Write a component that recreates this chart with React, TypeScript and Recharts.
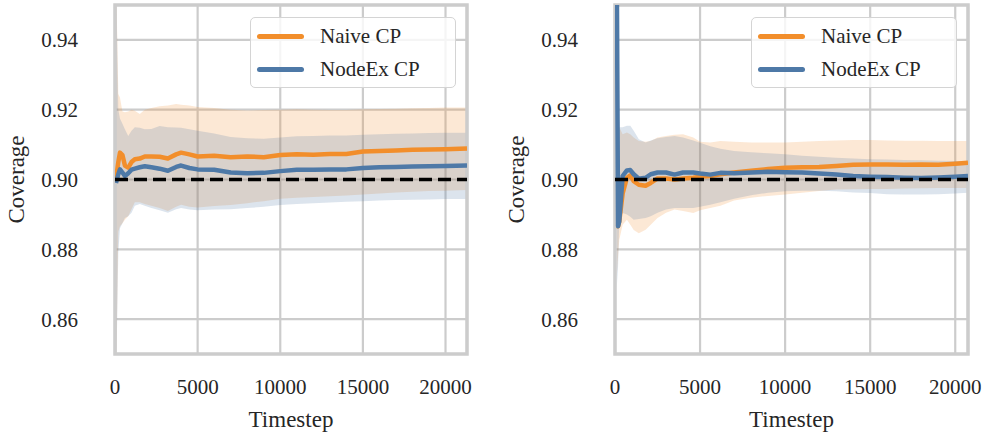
import React from "react";
import {
  ComposedChart,
  Area,
  Line,
  XAxis,
  YAxis,
  CartesianGrid,
  ReferenceLine,
  ReferenceArea,
  Legend,
} from "recharts";

const NAIVE_COLOR = "#F28E2B";
const NODEEX_COLOR = "#4E79A7";
const TEXT_COLOR = "#262626";
const GRID_COLOR = "#cccccc";
const FONT = "'Liberation Serif', 'DejaVu Serif', serif";

const yTicks = [0.86, 0.88, 0.9, 0.92, 0.94];
const xTicks = [0, 5000, 10000, 15000, 20000];
const targetCoverage = 0.9;

const seriesNames = [
  { key: "naive", name: "Naive CP", color: NAIVE_COLOR },
  { key: "nodeex", name: "NodeEx CP", color: NODEEX_COLOR },
];

// left run
const leftSteps = [
  60, 200, 300, 450, 600, 800, 1000, 1200, 1500, 1800, 2200, 2700, 3200, 3700,
  4000, 4500, 5000, 6000, 7000, 8000, 9000, 10000, 11000, 12000, 13000, 14000,
  15000, 16000, 17000, 18000, 19000, 20000, 21300,
];
const leftNaiveMean = [
  0.9, 0.905, 0.9077, 0.907, 0.904, 0.9034, 0.905, 0.9058, 0.906, 0.9066,
  0.9066, 0.9065, 0.906, 0.9072, 0.9077, 0.9072, 0.9066, 0.9068, 0.9064,
  0.9066, 0.9064, 0.907, 0.9072, 0.9071, 0.9073, 0.9073, 0.908, 0.9082,
  0.9083, 0.9085, 0.9086, 0.9087, 0.9089,
];
const leftNaiveLow = [
  0.84, 0.885, 0.8866, 0.8875, 0.8885, 0.8895, 0.8915, 0.8935, 0.8935, 0.893,
  0.8925, 0.8918, 0.891, 0.8922, 0.8928, 0.8922, 0.892, 0.8924, 0.8927,
  0.8932, 0.8938, 0.8945, 0.8948, 0.895, 0.8952, 0.8954, 0.8957, 0.896,
  0.8963, 0.8965, 0.8967, 0.8968, 0.897,
];
const leftNaiveHigh = [
  0.96, 0.9245, 0.9235, 0.9195, 0.9193, 0.9195, 0.92, 0.9197, 0.9188, 0.92,
  0.9205, 0.921, 0.9212, 0.9216, 0.9214, 0.9212, 0.9208, 0.9205, 0.92,
  0.9198, 0.9199, 0.92, 0.9201, 0.92, 0.9199, 0.9199, 0.9201, 0.9202,
  0.9203, 0.9204, 0.9205, 0.9206, 0.9206,
];
const leftNodeMean = [
  0.899, 0.9015, 0.9029, 0.902, 0.901, 0.9018, 0.9028, 0.9031, 0.9035,
  0.9038, 0.9035, 0.9031, 0.9025, 0.9036, 0.904, 0.9033, 0.9029, 0.9028,
  0.902, 0.9018, 0.9019, 0.9024, 0.9028, 0.9028, 0.9029, 0.9029, 0.9033,
  0.9035, 0.9036, 0.9037, 0.9038, 0.9039, 0.904,
];
const leftNodeLow = [
  0.84, 0.879, 0.886, 0.8875, 0.889, 0.8895, 0.8905, 0.8925, 0.893, 0.8925,
  0.8918, 0.8912, 0.8905, 0.8915, 0.8918, 0.8914, 0.8912, 0.8914, 0.8915,
  0.8918, 0.8922, 0.8927, 0.893, 0.8932, 0.8934, 0.8936, 0.8938, 0.894,
  0.8941, 0.8942, 0.8943, 0.8944, 0.8944,
];
const leftNodeHigh = [
  0.96, 0.92, 0.9175, 0.916, 0.9144, 0.9125, 0.914, 0.915, 0.9148, 0.9144,
  0.9145, 0.9153, 0.915, 0.9149, 0.9148, 0.9144, 0.914, 0.9132, 0.9122,
  0.9118, 0.9117, 0.912, 0.9124, 0.9125, 0.9126, 0.9126, 0.9128, 0.913,
  0.9131, 0.9132, 0.9133, 0.9134, 0.9134,
];

// right run
const rightSteps = [
  100, 180, 250, 450, 700, 900, 1100, 1400, 1800, 2100, 2500, 3000, 3500,
  4000, 4600, 5000, 5600, 6200, 7000, 8000, 9000, 10000, 11000, 12000, 13000,
  14000, 15000, 16000, 17000, 18000, 19000, 20000, 20750,
];
const rightNaiveMean = [
  0.8866, 0.8866, 0.888, 0.896, 0.9005, 0.9012, 0.8995, 0.8985, 0.8982,
  0.899, 0.9003, 0.9003, 0.9, 0.9003, 0.9005, 0.9008, 0.901, 0.9015, 0.902,
  0.9025, 0.903, 0.9034, 0.9035, 0.9036, 0.9039, 0.9042, 0.9043, 0.9043,
  0.9042, 0.9043, 0.9042, 0.9045, 0.9048,
];
const rightNaiveLow = [
  0.872, 0.878, 0.8827, 0.887, 0.8885, 0.887, 0.8855, 0.8846, 0.8856, 0.887,
  0.889, 0.8905, 0.8914, 0.891, 0.8904, 0.8912, 0.8918, 0.8925, 0.894,
  0.8948, 0.8953, 0.8957, 0.8962, 0.8967, 0.8971, 0.8972, 0.8973, 0.8973,
  0.8974, 0.8975, 0.8976, 0.8976, 0.8976,
];
const rightNaiveHigh = [
  0.935, 0.92, 0.915, 0.913, 0.9135, 0.913, 0.912, 0.911, 0.9108, 0.911,
  0.912, 0.9125, 0.9128, 0.913, 0.912, 0.9108, 0.9106, 0.911, 0.9108,
  0.9106, 0.9106, 0.9106, 0.9108, 0.911, 0.9112, 0.9113, 0.9113, 0.9112,
  0.9111, 0.9111, 0.911, 0.911, 0.911,
];
const rightNodeMean = [
  0.965, 0.8866, 0.888, 0.901, 0.9026, 0.9027, 0.9015, 0.9002, 0.9005,
  0.9015, 0.902, 0.902, 0.9014, 0.902, 0.902, 0.9017, 0.9014, 0.9019,
  0.9018, 0.902, 0.9022, 0.9021, 0.902, 0.9017, 0.9014, 0.901, 0.9008,
  0.9007, 0.9005, 0.9004, 0.9006, 0.9008, 0.901,
];
const rightNodeLow = [
  0.869, 0.875, 0.888, 0.8904, 0.89, 0.8893, 0.8885, 0.8887, 0.889, 0.8895,
  0.8905, 0.8914, 0.8918, 0.8918, 0.8918, 0.8922, 0.8928, 0.8935, 0.8945,
  0.8955, 0.8962, 0.8966, 0.8968, 0.8968, 0.8966, 0.8963, 0.8961, 0.8958,
  0.8957, 0.8957, 0.8958, 0.896, 0.8962,
];
const rightNodeHigh = [
  0.96, 0.93, 0.915, 0.915, 0.9154, 0.9154, 0.914, 0.9115, 0.9106, 0.9112,
  0.9118, 0.9122, 0.9125, 0.912, 0.9112, 0.9105, 0.9095, 0.9088, 0.9082,
  0.9078, 0.9075, 0.9072, 0.9068, 0.9065, 0.9062, 0.906, 0.9058, 0.9057,
  0.9056, 0.9055, 0.9054, 0.9053, 0.9053,
];

const toRows = (
  steps: number[],
  naiveMean: number[],
  naiveLow: number[],
  naiveHigh: number[],
  nodeMean: number[],
  nodeLow: number[],
  nodeHigh: number[]
) =>
  steps.map((step, i) => ({
    step,
    naive: naiveMean[i],
    naiveBand: [naiveLow[i], naiveHigh[i]],
    nodeex: nodeMean[i],
    nodeexBand: [nodeLow[i], nodeHigh[i]],
  }));

const leftRows = toRows(
  leftSteps,
  leftNaiveMean,
  leftNaiveLow,
  leftNaiveHigh,
  leftNodeMean,
  leftNodeLow,
  leftNodeHigh
);
const rightRows = toRows(
  rightSteps,
  rightNaiveMean,
  rightNaiveLow,
  rightNaiveHigh,
  rightNodeMean,
  rightNodeLow,
  rightNodeHigh
);

// serif tick labels, written out directly so the font is not overridden
const XTick = ({ x, y, payload }: any) => (
  <text
    x={x}
    y={y + 15}
    textAnchor="middle"
    fill={TEXT_COLOR}
    fontSize={21}
    fontFamily={FONT}
  >
    {payload.value}
  </text>
);

const YTick = ({ x, y, payload }: any) => (
  <text
    x={x}
    y={y + 7.5}
    textAnchor="end"
    fill={TEXT_COLOR}
    fontSize={21}
    fontFamily={FONT}
  >
    {Number(payload.value).toFixed(2)}
  </text>
);

const LegendBox = () => (
  <div
    style={{
      position: "relative",
      width: 206,
      height: 71,
      boxSizing: "border-box",
      border: "1.5px solid #d4d4d4",
      borderRadius: 5,
      background: "rgba(255,255,255,0.8)",
      fontFamily: FONT,
      fontSize: 21,
      color: TEXT_COLOR,
    }}
  >
    {seriesNames.map((s, i) => (
      <div
        key={s.key}
        style={{
          position: "absolute",
          left: 6,
          top: 7 + i * 33,
          height: 22,
          display: "flex",
          alignItems: "center",
          whiteSpace: "nowrap",
        }}
      >
        <span
          style={{
            display: "inline-block",
            width: 47,
            height: 5,
            borderRadius: 3,
            background: s.color,
          }}
        />
        <span style={{ marginLeft: 16, lineHeight: "22px" }}>{s.name}</span>
      </div>
    ))}
  </div>
);

interface PanelProps {
  rows: any[];
  xMax: number;
  width: number;
  plotRight: number;
}

const PLOT_LEFT = 115;
const PLOT_TOP = 5;
const PLOT_BOTTOM = 354;
const HEIGHT = 433;

const CoveragePanel = ({ rows, xMax, width, plotRight }: PanelProps) => (
  <ComposedChart
    width={width}
    height={HEIGHT}
    data={rows}
    margin={{ top: PLOT_TOP, right: width - plotRight, bottom: 0, left: 0 }}
  >
    <CartesianGrid stroke={GRID_COLOR} strokeWidth={2.2} />
    <XAxis
      dataKey="step"
      type="number"
      domain={[0, xMax]}
      allowDataOverflow
      ticks={xTicks}
      height={HEIGHT - PLOT_BOTTOM}
      axisLine={false}
      tickLine={false}
      tickSize={0}
      tickMargin={25}
      tick={<XTick />}
      label={{
        content: (props: any) => {
          const vb = props.viewBox;
          return (
            <text
              x={vb.x + vb.width / 2}
              y={vb.y + 73}
              textAnchor="middle"
              fill={TEXT_COLOR}
              fontSize={23}
              fontFamily={FONT}
            >
              Timestep
            </text>
          );
        },
      }}
    />
    <YAxis
      type="number"
      domain={[0.85, 0.95]}
      allowDataOverflow
      ticks={yTicks}
      width={PLOT_LEFT}
      axisLine={false}
      tickLine={false}
      tickSize={0}
      tickMargin={37}
      tick={<YTick />}
      label={{
        content: (props: any) => {
          const vb = props.viewBox;
          const cx = vb.x + 24;
          const cy = vb.y + vb.height / 2;
          return (
            <text
              x={cx}
              y={cy}
              transform={`rotate(-90 ${cx} ${cy})`}
              textAnchor="middle"
              fill={TEXT_COLOR}
              fontSize={23}
              fontFamily={FONT}
            >
              Coverage
            </text>
          );
        },
      }}
    />
    <Area
      dataKey="naiveBand"
      type="linear"
      stroke="none"
      fill={NAIVE_COLOR}
      fillOpacity={0.2}
      isAnimationActive={false}
      legendType="none"
      activeDot={false}
    />
    <Area
      dataKey="nodeexBand"
      type="linear"
      stroke="none"
      fill={NODEEX_COLOR}
      fillOpacity={0.2}
      isAnimationActive={false}
      legendType="none"
      activeDot={false}
    />
    <Line
      dataKey="naive"
      name="Naive CP"
      type="linear"
      stroke={NAIVE_COLOR}
      strokeWidth={4.5}
      strokeLinejoin="round"
      dot={false}
      activeDot={false}
      isAnimationActive={false}
    />
    <Line
      dataKey="nodeex"
      name="NodeEx CP"
      type="linear"
      stroke={NODEEX_COLOR}
      strokeWidth={4.5}
      strokeLinejoin="round"
      dot={false}
      activeDot={false}
      isAnimationActive={false}
    />
    <ReferenceLine
      y={targetCoverage}
      stroke="#000"
      strokeWidth={3.5}
      strokeDasharray="13 6"
    />
    <ReferenceArea
      x1={0}
      x2={xMax}
      y1={0.85}
      y2={0.95}
      fill="none"
      stroke={GRID_COLOR}
      strokeWidth={3.5}
    />
    <Legend
      layout="vertical"
      align="center"
      verticalAlign="middle"
      content={() => <LegendBox />}
      wrapperStyle={{ left: plotRight - 217, top: 17, width: 206, height: 71 }}
    />
  </ComposedChart>
);

export default function App() {
  return (
    <div
      style={{
        position: "absolute",
        left: 0,
        top: 0,
        width: 985,
        height: 433,
        background: "#fff",
      }}
    >
      <div style={{ position: "absolute", left: 0, top: 0 }}>
        <CoveragePanel rows={leftRows} xMax={21300} width={490} plotRight={467} />
      </div>
      <div style={{ position: "absolute", left: 500, top: 0 }}>
        <CoveragePanel rows={rightRows} xMax={20750} width={485} plotRight={468} />
      </div>
    </div>
  );
}
